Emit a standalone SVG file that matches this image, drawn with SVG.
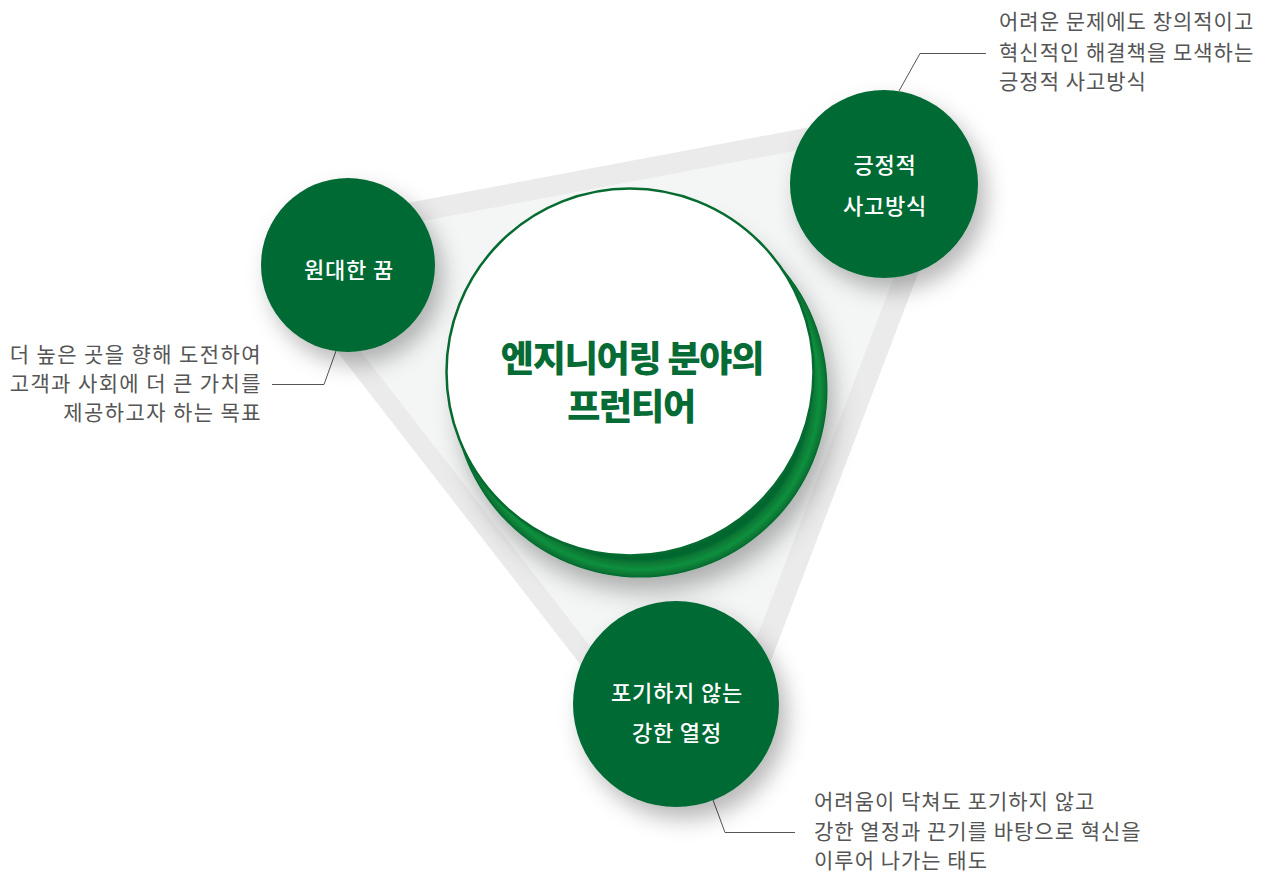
<svg xmlns="http://www.w3.org/2000/svg" width="1265" height="876" viewBox="0 0 1265 876">
<style>
.node{fill:#046a35;}
.lbl{font-family:"Noto Sans CJK KR","Noto Sans",sans-serif;font-size:22px;font-weight:500;fill:#ffffff;text-anchor:middle;letter-spacing:0.8px;}
.desc{font-family:"Noto Sans CJK KR","Noto Sans",sans-serif;font-size:21px;font-weight:400;fill:#555555;letter-spacing:1px;}
.descl{letter-spacing:1.4px;}
.title{font-family:"Noto Sans CJK KR","Noto Sans",sans-serif;font-size:36px;font-weight:900;fill:#076b35;text-anchor:middle;letter-spacing:-1.2px;}
.lead{fill:none;stroke:#555555;stroke-width:1;}
.band{fill:#ebebeb;}
</style>
<defs>
<filter id="sh" x="-40%" y="-40%" width="190%" height="190%">
<feDropShadow dx="8" dy="12" stdDeviation="11" flood-color="#000000" flood-opacity="0.28"/>
</filter>
<filter id="shc" x="-30%" y="-30%" width="170%" height="170%">
<feDropShadow dx="6" dy="14" stdDeviation="12" flood-color="#000000" flood-opacity="0.3"/>
</filter>
<radialGradient id="ring" cx="640" cy="390" r="188" gradientUnits="userSpaceOnUse">
<stop offset="0.9" stop-color="#05682f"/>
<stop offset="0.955" stop-color="#0c903e"/>
<stop offset="1" stop-color="#05662e"/>
</radialGradient>
</defs>

<g id="triangle">
<polygon points="330,238.6 900,131.1 923,200 733,700 632,700 321,300" fill="#f4f6f5"/>
<polygon class="band" points="330,217.6 900,110.1 900,131.1 330,238.6"/>
<polygon class="band" points="297,300 608,700 632,700 321,300"/>
<polygon class="band" points="946,200 756,700 733,700 923,200"/>
</g>

<g id="connectors">
<polyline class="lead" points="272,384.5 324,384.5 336,351"/>
<polyline class="lead" points="986,53.5 920,53.5 899,91"/>
<polyline class="lead" points="713,800 725,832.5 795,832.5"/>
</g>

<g id="center">
<circle cx="640" cy="390" r="187.5" fill="url(#ring)" filter="url(#shc)"/>
<circle cx="630" cy="372" r="183.5" fill="#ffffff" stroke="#066b30" stroke-width="2.5"/>
<text class="title" x="632" y="372">엔지니어링 분야의</text>
<text class="title" x="631" y="420">프런티어</text>
</g>

<g id="node-dream">
<circle class="node" cx="348" cy="265" r="87" filter="url(#sh)"/>
<text class="lbl" x="349" y="278">원대한 꿈</text>
</g>

<g id="node-positive">
<circle class="node" cx="884" cy="184" r="94" filter="url(#sh)"/>
<text class="lbl" x="885" y="173">긍정적</text>
<text class="lbl" x="885" y="214">사고방식</text>
</g>

<g id="node-passion">
<circle class="node" cx="676" cy="704" r="103" filter="url(#sh)"/>
<text class="lbl" x="677" y="701">포기하지 않는</text>
<text class="lbl" x="677" y="741">강한 열정</text>
</g>

<g id="desc-dream">
<text class="desc descl" x="262" y="362" text-anchor="end">더 높은 곳을 향해 도전하여</text>
<text class="desc descl" x="262" y="391" text-anchor="end">고객과 사회에 더 큰 가치를</text>
<text class="desc descl" x="262" y="420" text-anchor="end">제공하고자 하는 목표</text>
</g>

<g id="desc-positive">
<text class="desc" x="999" y="29">어려운 문제에도 창의적이고</text>
<text class="desc" x="999" y="60">혁신적인 해결책을 모색하는</text>
<text class="desc" x="999" y="89">긍정적 사고방식</text>
</g>

<g id="desc-passion">
<text class="desc" x="814" y="809">어려움이 닥쳐도 포기하지 않고</text>
<text class="desc" x="814" y="839">강한 열정과 끈기를 바탕으로 혁신을</text>
<text class="desc" x="814" y="868">이루어 나가는 태도</text>
</g>
</svg>
